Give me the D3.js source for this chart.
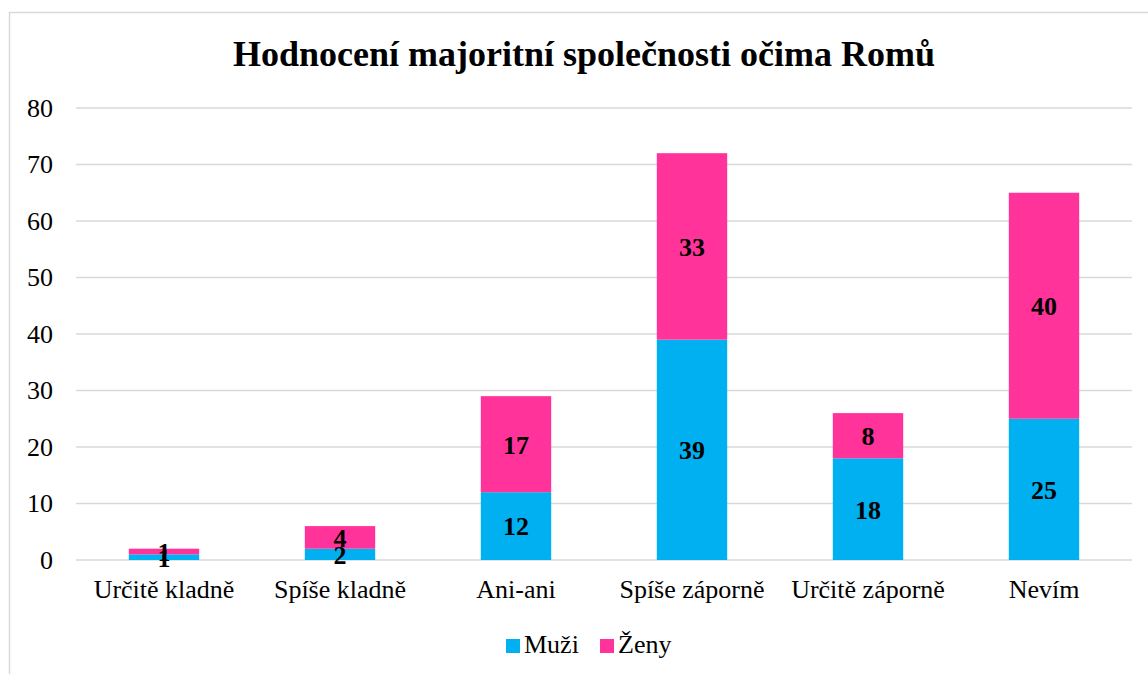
<!DOCTYPE html>
<html>
<head>
<meta charset="utf-8">
<script src="https://cdn.jsdelivr.net/npm/d3@7"></script>
<style>
  body { margin: 0; background: #fff; }
  svg text { font-family: "Liberation Serif", "Times New Roman", serif; }
</style>
</head>
<body>
<script>
var categories = ["Určitě kladně", "Spíše kladně", "Ani-ani", "Spíše záporně", "Určitě záporně", "Nevím"]
var muzi = [1, 2, 12, 39, 18, 25]
var zeny = [1, 4, 17, 33, 8, 40]
var seriesNames = ["Muži", "Ženy"]
var colors = ["#00B0F0", "#FF3399"]
var yTicks = [0, 10, 20, 30, 40, 50, 60, 70, 80]

var W = 1148, H = 674
var serif = "'Liberation Serif', 'Times New Roman', serif"
var margin = {left: 76, right: 16, top: 108, bottom: 114}

var svg = d3.select("body").append("svg")
    .attr("width", W)
    .attr("height", H)

// chart frame, cut off at right and bottom like the original
svg.append("rect")
    .attr("x", 9.5).attr("y", 12.5)
    .attr("width", 1160).attr("height", 700)
    .attr("fill", "none")
    .attr("stroke", "#d9d9d9")
    .attr("stroke-width", 1.5)

svg.append("text")
    .attr("x", 584).attr("y", 66)
    .attr("text-anchor", "middle")
    .attr("font-size", "36px")
    .attr("font-weight", "bold")
    .text("Hodnocení majoritní společnosti očima Romů")

var x = d3.scaleBand()
    .domain(categories)
    .range([margin.left, W - margin.right])
    .paddingInner(0.6)
    .paddingOuter(0.3)

var y = d3.scaleLinear()
    .domain([0, 80])
    .range([H - margin.bottom, margin.top])

// gridlines
svg.append("g")
  .selectAll("line")
  .data(yTicks)
  .enter().append("line")
    .attr("x1", margin.left).attr("x2", W - margin.right)
    .attr("y1", d => y(d)).attr("y2", d => y(d))
    .attr("stroke", "#d9d9d9")
    .attr("stroke-width", 1.5)

var yAxis = svg.append("g")
    .attr("transform", "translate(" + margin.left + ",0)")
    .call(d3.axisLeft(y).tickValues(yTicks).tickSize(0).tickPadding(23))
    .attr("font-family", serif)
    .attr("font-size", 26)
yAxis.select(".domain").remove()
yAxis.selectAll("text").attr("fill", "#000")

var xAxis = svg.append("g")
    .attr("transform", "translate(0," + y(0) + ")")
    .call(d3.axisBottom(x).tickSize(0).tickPadding(20))
    .attr("font-family", serif)
    .attr("font-size", 26)
xAxis.select(".domain").remove()
xAxis.selectAll("text").attr("fill", "#000")

var table = categories.map((c, i) => ({cat: c, "Muži": muzi[i], "Ženy": zeny[i]}))
var stacked = d3.stack().keys(seriesNames)(table)

var layers = svg.append("g").selectAll("g")
  .data(stacked)
  .enter().append("g")
    .attr("fill", (d, i) => colors[i])

layers.selectAll("rect")
  .data(d => d)
  .enter().append("rect")
    .attr("x", d => x(d.data.cat))
    .attr("width", x.bandwidth())
    .attr("y", d => y(d[1]))
    .attr("height", d => y(d[0]) - y(d[1]))

var labels = svg.append("g").selectAll("g")
  .data(stacked)
  .enter().append("g")

labels.selectAll("text")
  .data(d => d)
  .enter().append("text")
    .attr("x", d => x(d.data.cat) + x.bandwidth() / 2)
    .attr("y", d => (y(d[0]) + y(d[1])) / 2)
    .attr("dy", "0.36em")
    .attr("text-anchor", "middle")
    .attr("font-size", "26px")
    .attr("font-weight", "bold")
    .text(d => d[1] - d[0])

// legend
var legend = svg.append("g").attr("transform", "translate(506,639)")
var items = legend.selectAll("g")
  .data(seriesNames)
  .enter().append("g")
    .attr("transform", (d, i) => "translate(" + (i * 94) + ",0)")
items.append("rect")
    .attr("width", 14).attr("height", 14)
    .attr("fill", (d, i) => colors[i])
items.append("text")
    .attr("x", 18).attr("y", 14)
    .attr("font-size", "26px")
    .text(d => d)
</script>
</body>
</html>
